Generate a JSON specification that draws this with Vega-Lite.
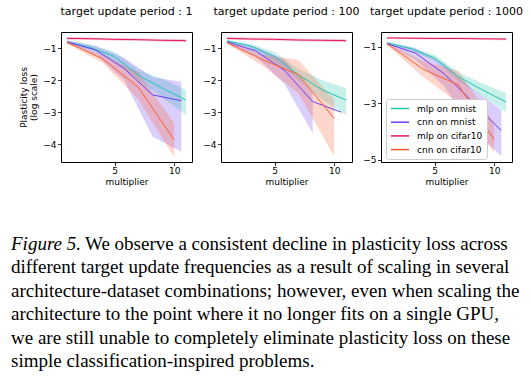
{
  "$schema": "https://vega.github.io/schema/vega-lite/v6.json",
  "padding": {"left": 11, "top": 5, "right": 5, "bottom": 5},
  "background": "white",
  "datasets": {
    "d": [
      {"p":1,"s":"mlp on mnist","x":1,"y":-0.80,"lo":-0.85,"hi":-0.76},
      {"p":1,"s":"mlp on mnist","x":3,"y":-0.98,"lo":-1.05,"hi":-0.90},
      {"p":1,"s":"mlp on mnist","x":5,"y":-1.26,"lo":-1.40,"hi":-1.12},
      {"p":1,"s":"mlp on mnist","x":7,"y":-1.84,"lo":-2.00,"hi":-1.68},
      {"p":1,"s":"mlp on mnist","x":9,"y":-2.25,"lo":-2.55,"hi":-1.95},
      {"p":1,"s":"mlp on mnist","x":11,"y":-2.62,"lo":-3.10,"hi":-2.30},
      {"p":1,"s":"cnn on mnist","x":1,"y":-0.80,"lo":-0.85,"hi":-0.76},
      {"p":1,"s":"cnn on mnist","x":3.4,"y":-1.05,"lo":-1.20,"hi":-0.92},
      {"p":1,"s":"cnn on mnist","x":5.8,"y":-1.63,"lo":-2.00,"hi":-1.30},
      {"p":1,"s":"cnn on mnist","x":8.2,"y":-2.46,"lo":-3.77,"hi":-1.91},
      {"p":1,"s":"cnn on mnist","x":10.6,"y":-2.64,"lo":-4.24,"hi":-2.05},
      {"p":1,"s":"mlp on cifar10","x":1,"y":-0.69,"lo":-0.73,"hi":-0.65},
      {"p":1,"s":"mlp on cifar10","x":3,"y":-0.70,"lo":-0.74,"hi":-0.66},
      {"p":1,"s":"mlp on cifar10","x":5,"y":-0.72,"lo":-0.76,"hi":-0.68},
      {"p":1,"s":"mlp on cifar10","x":7,"y":-0.73,"lo":-0.77,"hi":-0.69},
      {"p":1,"s":"mlp on cifar10","x":9,"y":-0.75,"lo":-0.79,"hi":-0.71},
      {"p":1,"s":"mlp on cifar10","x":11,"y":-0.76,"lo":-0.80,"hi":-0.72},
      {"p":1,"s":"cnn on cifar10","x":1,"y":-0.81,"lo":-0.86,"hi":-0.77},
      {"p":1,"s":"cnn on cifar10","x":4,"y":-1.33,"lo":-1.45,"hi":-1.22},
      {"p":1,"s":"cnn on cifar10","x":7,"y":-2.22,"lo":-2.60,"hi":-1.75},
      {"p":1,"s":"cnn on cifar10","x":10,"y":-3.87,"lo":-4.40,"hi":-3.35},

      {"p":2,"s":"mlp on mnist","x":1,"y":-0.77,"lo":-0.82,"hi":-0.73},
      {"p":2,"s":"mlp on mnist","x":3,"y":-0.93,"lo":-1.00,"hi":-0.86},
      {"p":2,"s":"mlp on mnist","x":5,"y":-1.26,"lo":-1.42,"hi":-1.12},
      {"p":2,"s":"mlp on mnist","x":7,"y":-1.83,"lo":-2.00,"hi":-1.65},
      {"p":2,"s":"mlp on mnist","x":9,"y":-2.30,"lo":-2.60,"hi":-2.00},
      {"p":2,"s":"mlp on mnist","x":11,"y":-2.62,"lo":-3.08,"hi":-2.25},
      {"p":2,"s":"cnn on mnist","x":1,"y":-0.80,"lo":-0.85,"hi":-0.76},
      {"p":2,"s":"cnn on mnist","x":3.4,"y":-1.08,"lo":-1.25,"hi":-0.95},
      {"p":2,"s":"cnn on mnist","x":5.8,"y":-1.68,"lo":-2.10,"hi":-1.35},
      {"p":2,"s":"cnn on mnist","x":8.2,"y":-2.67,"lo":-3.66,"hi":-2.40},
      {"p":2,"s":"cnn on mnist","x":10.6,"y":-3.00,"lo":null,"hi":null},
      {"p":2,"s":"mlp on cifar10","x":1,"y":-0.69,"lo":-0.73,"hi":-0.65},
      {"p":2,"s":"mlp on cifar10","x":3,"y":-0.71,"lo":-0.75,"hi":-0.67},
      {"p":2,"s":"mlp on cifar10","x":5,"y":-0.72,"lo":-0.76,"hi":-0.68},
      {"p":2,"s":"mlp on cifar10","x":7,"y":-0.74,"lo":-0.78,"hi":-0.70},
      {"p":2,"s":"mlp on cifar10","x":9,"y":-0.75,"lo":-0.79,"hi":-0.71},
      {"p":2,"s":"mlp on cifar10","x":11,"y":-0.76,"lo":-0.80,"hi":-0.72},
      {"p":2,"s":"cnn on cifar10","x":1,"y":-0.82,"lo":-0.86,"hi":-0.78},
      {"p":2,"s":"cnn on cifar10","x":4,"y":-1.36,"lo":-1.55,"hi":-1.20},
      {"p":2,"s":"cnn on cifar10","x":7,"y":-1.82,"lo":-2.40,"hi":-1.37},
      {"p":2,"s":"cnn on cifar10","x":10,"y":-3.20,"lo":-4.38,"hi":-2.60},

      {"p":3,"s":"mlp on mnist","x":1,"y":-0.86,"lo":-0.90,"hi":-0.80},
      {"p":3,"s":"mlp on mnist","x":3,"y":-1.06,"lo":-1.12,"hi":-1.00},
      {"p":3,"s":"mlp on mnist","x":5,"y":-1.39,"lo":-1.50,"hi":-1.28},
      {"p":3,"s":"mlp on mnist","x":7,"y":-2.05,"lo":-2.20,"hi":-1.90},
      {"p":3,"s":"mlp on mnist","x":9,"y":-2.52,"lo":-2.75,"hi":-2.30},
      {"p":3,"s":"mlp on mnist","x":11,"y":-2.95,"lo":-3.31,"hi":-2.63},
      {"p":3,"s":"cnn on mnist","x":1,"y":-0.88,"lo":-0.93,"hi":-0.84},
      {"p":3,"s":"cnn on mnist","x":3.4,"y":-1.22,"lo":-1.45,"hi":-1.05},
      {"p":3,"s":"cnn on mnist","x":5.8,"y":-1.95,"lo":-2.40,"hi":-1.60},
      {"p":3,"s":"cnn on mnist","x":8.2,"y":-2.95,"lo":-3.90,"hi":-2.50},
      {"p":3,"s":"cnn on mnist","x":10.6,"y":-3.97,"lo":-4.88,"hi":-3.23},
      {"p":3,"s":"mlp on cifar10","x":1,"y":-0.68,"lo":-0.72,"hi":-0.64},
      {"p":3,"s":"mlp on cifar10","x":3,"y":-0.69,"lo":-0.73,"hi":-0.65},
      {"p":3,"s":"mlp on cifar10","x":5,"y":-0.70,"lo":-0.74,"hi":-0.66},
      {"p":3,"s":"mlp on cifar10","x":7,"y":-0.70,"lo":-0.74,"hi":-0.66},
      {"p":3,"s":"mlp on cifar10","x":9,"y":-0.71,"lo":-0.75,"hi":-0.67},
      {"p":3,"s":"mlp on cifar10","x":11,"y":-0.72,"lo":-0.76,"hi":-0.68},
      {"p":3,"s":"cnn on cifar10","x":1,"y":-0.88,"lo":-0.93,"hi":-0.84},
      {"p":3,"s":"cnn on cifar10","x":4,"y":-1.78,"lo":-2.05,"hi":-1.50},
      {"p":3,"s":"cnn on cifar10","x":7,"y":-2.35,"lo":-3.00,"hi":-1.85},
      {"p":3,"s":"cnn on cifar10","x":10,"y":-4.29,"lo":-4.75,"hi":-3.70}
    ],
    "cap": [
      {"line":2,"t":"different target update frequencies as a result of scaling in several"},
      {"line":3,"t":"architecture-dataset combinations; however, even when scaling the"},
      {"line":4,"t":"architecture to the point where it no longer fits on a single GPU,"},
      {"line":5,"t":"we are still unable to completely eliminate plasticity loss on these"},
      {"line":6,"t":"simple classification-inspired problems."}
    ]
  },
  "config": {
    "view": {"stroke": "black", "strokeWidth": 1},
    "axis": {"domain": false, "grid": false, "tickColor": "black", "tickSize": 3.5, "tickWidth": 0.8, "labelFont": "DejaVu Sans", "labelFontSize": 9, "labelColor": "black", "titleFont": "DejaVu Sans", "titleFontSize": 9, "titleFontWeight": "normal", "titleColor": "black"},
    "axisX": {"labelPadding": 1, "titlePadding": 2},
    "axisY": {"labelPadding": 1.5, "titlePadding": 4, "titleLineHeight": 10.5},
    "title": {"font": "DejaVu Sans", "fontSize": 11, "fontWeight": "normal", "color": "black", "offset": 15, "baseline": "alphabetic"}
  },
  "bounds": "flush",
  "spacing": 217.5,
  "vconcat": [
    {
      "hconcat": [
        {
          "width": 131, "height": 130,
          "title": "target update period : 1",
          "data": {"name": "d"},
          "transform": [{"filter": "datum.p == 1"}],
          "encoding": {
            "x": {"field": "x", "type": "quantitative", "scale": {"domain": [0.5, 11.5], "nice": false, "zero": false}, "axis": {"values": [5, 10], "format": "d", "title": "multiplier"}}
          },
          "layer": [
            {"mark": {"type": "area", "opacity": 0.25},
             "encoding": {
               "y": {"field": "lo", "type": "quantitative", "scale": {"domain": [-4.56, -0.49], "nice": false, "zero": false}, "axis": {"values": [-1, -2, -3, -4], "title": ["Plasticity loss", "(log scale)"]}},
               "y2": {"field": "hi"},
               "fill": {"field": "s", "type": "nominal", "scale": {"domain": ["mlp on mnist", "cnn on mnist", "mlp on cifar10", "cnn on cifar10"], "range": ["#22c4b0", "#6a3ef0", "#e8185a", "#ff5c2e"]}, "legend": null}
             }},
            {"mark": {"type": "line", "strokeWidth": 1},
             "encoding": {
               "y": {"field": "y", "type": "quantitative"},
               "color": {"field": "s", "type": "nominal", "scale": {"domain": ["mlp on mnist", "cnn on mnist", "mlp on cifar10", "cnn on cifar10"], "range": ["#22c4b0", "#6a3ef0", "#e8185a", "#ff5c2e"]}, "legend": null}
             }}
          ]
        },
        {
          "width": 131, "height": 130,
          "title": "target update period : 100",
          "data": {"name": "d"},
          "transform": [{"filter": "datum.p == 2"}],
          "encoding": {
            "x": {"field": "x", "type": "quantitative", "scale": {"domain": [0.5, 11.5], "nice": false, "zero": false}, "axis": {"values": [5, 10], "format": "d", "title": "multiplier"}}
          },
          "layer": [
            {"mark": {"type": "area", "opacity": 0.25},
             "encoding": {
               "y": {"field": "lo", "type": "quantitative", "scale": {"domain": [-4.56, -0.49], "nice": false, "zero": false}, "axis": {"values": [-1, -2, -3, -4], "title": null}},
               "y2": {"field": "hi"},
               "fill": {"field": "s", "type": "nominal", "scale": {"domain": ["mlp on mnist", "cnn on mnist", "mlp on cifar10", "cnn on cifar10"], "range": ["#22c4b0", "#6a3ef0", "#e8185a", "#ff5c2e"]}, "legend": null}
             }},
            {"mark": {"type": "line", "strokeWidth": 1},
             "encoding": {
               "y": {"field": "y", "type": "quantitative"},
               "color": {"field": "s", "type": "nominal", "scale": {"domain": ["mlp on mnist", "cnn on mnist", "mlp on cifar10", "cnn on cifar10"], "range": ["#22c4b0", "#6a3ef0", "#e8185a", "#ff5c2e"]}, "legend": null}
             }}
          ]
        },
        {
          "width": 131, "height": 130,
          "title": "target update period : 1000",
          "data": {"name": "d"},
          "transform": [{"filter": "datum.p == 3"}],
          "encoding": {
            "x": {"field": "x", "type": "quantitative", "scale": {"domain": [0.5, 11.5], "nice": false, "zero": false}, "axis": {"values": [5, 10], "format": "d", "title": "multiplier"}}
          },
          "layer": [
            {"mark": {"type": "area", "opacity": 0.25},
             "encoding": {
               "y": {"field": "lo", "type": "quantitative", "scale": {"domain": [-5.08, -0.47], "nice": false, "zero": false}, "axis": {"values": [-1, -2, -3, -4, -5], "title": null}},
               "y2": {"field": "hi"},
               "fill": {"field": "s", "type": "nominal", "scale": {"domain": ["mlp on mnist", "cnn on mnist", "mlp on cifar10", "cnn on cifar10"], "range": ["#22c4b0", "#6a3ef0", "#e8185a", "#ff5c2e"]}, "legend": null}
             }},
            {"mark": {"type": "line", "strokeWidth": 1},
             "encoding": {
               "y": {"field": "y", "type": "quantitative"},
               "color": {"field": "s", "type": "nominal", "scale": {"domain": ["mlp on mnist", "cnn on mnist", "mlp on cifar10", "cnn on cifar10"], "range": ["#22c4b0", "#6a3ef0", "#e8185a", "#ff5c2e"]},
                 "legend": {"orient": "none", "legendX": 5, "legendY": 67, "title": null, "symbolType": "M-1,0L3,0", "symbolSize": 81, "symbolStrokeWidth": 1.5, "labelFont": "DejaVu Sans", "labelFontSize": 9, "labelColor": "black", "padding": 4, "rowPadding": 2.7, "labelOffset": 16, "strokeColor": "#cccccc", "fillColor": "white", "cornerRadius": 3}}
             }}
          ]
        }
      ],
      "spacing": 29,
      "bounds": "flush",
      "resolve": {"legend": {"color": "independent"}}
    },
    {
      "width": 131, "height": 118,
      "view": {"stroke": null},
      "layer": [
        {"data": {"name": "cap"},
         "mark": {"type": "text", "align": "left", "baseline": "alphabetic", "font": "Liberation Serif", "fontSize": 19, "color": "black"},
         "encoding": {
           "x": {"value": -50},
           "y": {"field": "line", "type": "quantitative", "scale": {"domain": [1, 6], "range": [0, 117.5], "nice": false, "zero": false}, "axis": null},
           "text": {"field": "t"}
         }},
        {"data": {"values": [{"line": 1, "t": "We observe a consistent decline in plasticity loss across"}]},
         "mark": {"type": "text", "align": "left", "baseline": "alphabetic", "font": "Liberation Serif", "fontSize": 19, "color": "black", "dx": 74},
         "encoding": {
           "x": {"value": -50},
           "y": {"field": "line", "type": "quantitative"},
           "text": {"field": "t"}
         }},
        {"data": {"values": [{"line": 1, "t": "Figure 5."}]},
         "mark": {"type": "text", "align": "left", "baseline": "alphabetic", "font": "Liberation Serif", "fontSize": 19, "fontStyle": "italic", "color": "black"},
         "encoding": {
           "x": {"value": -50},
           "y": {"field": "line", "type": "quantitative"},
           "text": {"field": "t"}
         }}
      ]
    }
  ]
}
